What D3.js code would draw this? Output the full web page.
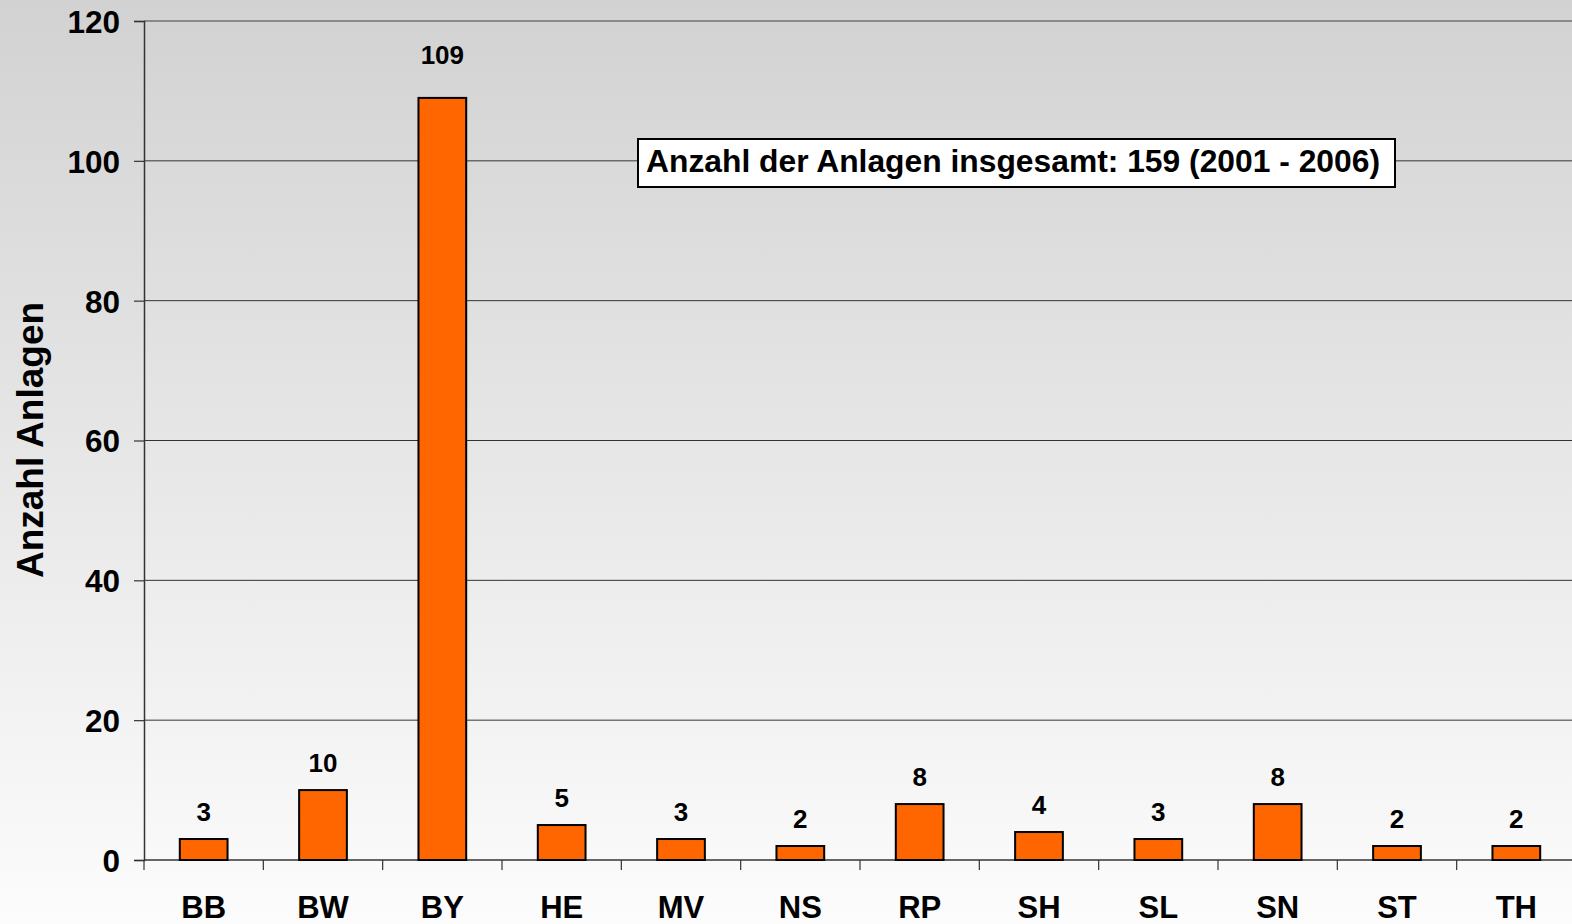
<!DOCTYPE html>
<html><head><meta charset="utf-8">
<script src="https://cdn.jsdelivr.net/npm/d3@7"></script>
<style>html,body{margin:0;padding:0;overflow:hidden;}svg{display:block;}</style>
</head><body>
<script>
const categories = ["BB","BW","BY","HE","MV","NS","RP","SH","SL","SN","ST","TH"];
const values = [3,10,109,5,3,2,8,4,3,8,2,2];
const yTicks = [0,20,40,60,80,100,120];
const yTitle = "Anzahl Anlagen";
const note = "Anzahl der Anlagen insgesamt: 159 (2001 - 2006)";

(function(){
const W = 1572, H = 924;
const svg = d3.select("body").append("svg").attr("width", W).attr("height", H);
const defs = svg.append("defs");
const grad = defs.append("linearGradient").attr("id","bg").attr("x1",0).attr("y1",0).attr("x2",0).attr("y2",1);
grad.append("stop").attr("offset","0%").attr("stop-color","#d2d2d2");
grad.append("stop").attr("offset","100%").attr("stop-color","#fcfcfc");
svg.append("rect").attr("width",W).attr("height",H).attr("fill","url(#bg)");

const mLeft = 144, mRight = 1576, mTop = 21, mBottom = 860;
const x = d3.scaleBand().domain(categories).range([mLeft, mRight]).paddingInner(0.6).paddingOuter(0.3);
const xb = d3.scaleBand().domain(categories).range([mLeft, mRight]);
const y = d3.scaleLinear().domain([0,120]).range([mBottom, mTop]);
const font = "'Liberation Sans', Arial, sans-serif";

svg.append("g").selectAll("line").data(yTicks.filter(d=>d>0)).join("line")
  .attr("x1", mLeft).attr("x2", W).attr("y1", d=>y(d)).attr("y2", d=>y(d))
  .attr("stroke", d=> d===120 ? "#8a8a8a" : "#333").attr("stroke-width", d=> d===120 ? 2 : 1);

const yAxis = svg.append("g").attr("transform",`translate(${mLeft},0)`)
  .call(d3.axisLeft(y).tickValues(yTicks).tickSize(10).tickPadding(14));
yAxis.select(".domain").attr("stroke","#333").attr("stroke-width",1.5);
yAxis.selectAll(".tick line").attr("stroke","#333").attr("stroke-width",1.2);
yAxis.selectAll("text").attr("font-family",font).attr("font-weight","bold").attr("font-size",31.5).attr("fill","#000").attr("dy","0.36em");

const xAxis = svg.append("g").attr("transform",`translate(0,${mBottom})`)
  .call(d3.axisBottom(xb).tickSize(0).tickPadding(30));
xAxis.select(".domain").attr("stroke","#333").attr("stroke-width",1.5).attr("d",`M${mLeft},0H${W}`);
xAxis.selectAll("text").attr("font-family",font).attr("font-weight","bold").attr("font-size",31).attr("fill","#000").attr("dy","0.9em");
svg.append("g").selectAll("line").data(categories).join("line")
  .attr("x1", d=>xb(d)).attr("x2", d=>xb(d)).attr("y1", mBottom).attr("y2", mBottom+10)
  .attr("stroke","#333").attr("stroke-width",1.2);

svg.append("g").selectAll("rect").data(values).join("rect")
  .attr("x",(d,i)=>x(categories[i])).attr("width",x.bandwidth())
  .attr("y",d=>y(d)).attr("height",d=>mBottom-y(d))
  .attr("fill","#ff6600").attr("stroke","#000").attr("stroke-width",2);

svg.append("g").selectAll("text").data(values).join("text")
  .attr("x",(d,i)=>x(categories[i])+x.bandwidth()/2).attr("y",d=>y(d) - (d > 100 ? 34 : 18))
  .attr("text-anchor","middle").attr("font-family",font).attr("font-weight","bold").attr("font-size",26)
  .attr("fill","#000").text(d=>d);

svg.append("text").attr("transform",`translate(43,${(303+577)/2}) rotate(-90)`)
  .attr("text-anchor","middle").attr("font-family",font).attr("font-weight","bold").attr("font-size",37)
  .attr("fill","#000").text(yTitle);

const g = svg.append("g");
g.append("rect").attr("x",638).attr("y",139).attr("width",1395-638).attr("height",48)
  .attr("fill","#fff").attr("stroke","#000").attr("stroke-width",2);
g.append("text").attr("x",1013).attr("y",y(100)).attr("dy","0.36em").attr("text-anchor","middle")
  .attr("font-family",font).attr("font-weight","bold").attr("font-size",31.8).attr("fill","#000").text(note);
})();
</script>
</body></html>
